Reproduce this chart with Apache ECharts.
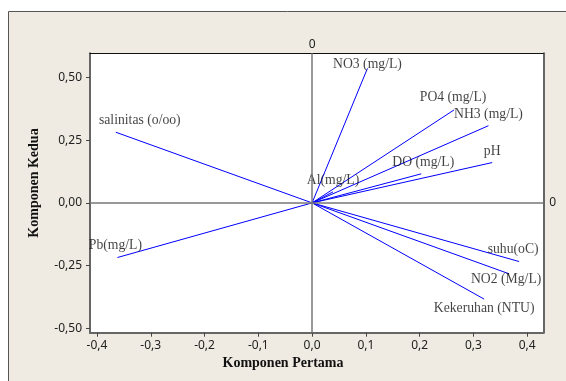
<!DOCTYPE html>
<html>
<head>
<meta charset="utf-8">
<script src="https://cdn.jsdelivr.net/npm/echarts@6/dist/echarts.min.js"></script>
<style>
html,body{margin:0;padding:0;background:#fff;}
#chart{width:566px;height:381px;}
</style>
</head>
<body>
<div id="chart"></div>
<script>
// Variable names (loadings plot)
var variables = ['NO3 (mg/L)', 'PO4 (mg/L)', 'NH3 (mg/L)', 'pH', 'DO (mg/L)', 'Al(mg/L)',
                 'salinitas (o/oo)', 'Pb(mg/L)', 'suhu(oC)', 'NO2 (Mg/L)', 'Kekeruhan (NTU)'];
// First component loadings
var komponenPertama = [0.103, 0.264, 0.328, 0.335, 0.203, 0.039, -0.365, -0.362, 0.385, 0.3665, 0.320];
// Second component loadings
var komponenKedua = [0.537, 0.371, 0.308, 0.161, 0.116, 0.044, 0.282, -0.218, -0.234, -0.283, -0.384];
// Tick labels
var xTicks = [-0.4, -0.3, -0.2, -0.1, 0.0, 0.1, 0.2, 0.3, 0.4];
var yTicks = [-0.5, -0.25, 0, 0.25, 0.5];

// label placement (style only)
var labelOffsets = [[0,-4],[-1,-13],[0,-11],[0,-11],[2,-11],[0,-11],[24,-12],[-2,-12],[-6,-12],[-3,6],[0,9]];

var XMIN = -0.413, XMAX = 0.430, YMIN = -0.518, YMAX = 0.597;
var serif = '"Liberation Serif", "Times New Roman", serif';
var sans = '"Noto Sans", "DejaVu Sans", sans-serif';

function commaFmt(d) { return function (v) { return v.toFixed(d).replace('.', ','); }; }

var series = variables.map(function (name, i) {
  return {
    type: 'line',
    xAxisIndex: 0, yAxisIndex: 0,
    data: [[0, 0], [komponenPertama[i], komponenKedua[i]]],
    symbol: 'none',
    lineStyle: { color: '#0000FF', width: 1 },
    silent: true,
    z: 3
  };
});

series.push({
  type: 'scatter',
  xAxisIndex: 0, yAxisIndex: 0,
  symbolSize: 0,
  z: 4,
  data: variables.map(function (name, i) {
    return {
      name: name,
      value: [komponenPertama[i], komponenKedua[i]],
      label: { offset: labelOffsets[i] }
    };
  }),
  label: {
    show: true,
    position: 'inside',
    formatter: '{b}',
    color: '#111',
    fontFamily: serif,
    fontSize: 13.7
  },
  markLine: {
    silent: true,
    symbol: 'none',
    label: { show: false },
    lineStyle: { color: '#777', width: 1.5, type: 'solid' },
    data: [{ xAxis: 0 }, { yAxis: 0 }]
  },
  z2: 5
});

var chart = echarts.init(document.getElementById('chart'));
chart.setOption({
  animation: false,
  backgroundColor: '#fff',
  graphic: [
    { type: 'rect', z: -10, shape: { x: 8.5, y: 11.5, width: 620, height: 420 },
      style: { fill: '#EFEBE2', stroke: '#555', lineWidth: 1 } },
    { type: 'text', left: 'center', z: 10, x: 0, top: 356,
      style: { text: 'Komponen Pertama', font: 'bold 14px ' + serif, fill: '#111' } },
    { type: 'text', z: 10, x: 34, y: 183, rotation: Math.PI / 2,
      style: { text: 'Komponen Kedua', font: 'bold 14px ' + serif, fill: '#111',
               align: 'center', verticalAlign: 'middle' } }
  ],
  grid: {
    left: 90, right: 22.7, top: 53.3, bottom: 48.3,
    show: true, backgroundColor: '#fff', borderWidth: 0
  },
  xAxis: [{
    type: 'value', min: XMIN, max: XMAX, position: 'bottom',
    axisLine: { show: true, onZero: false, lineStyle: { color: '#666', width: 2 } },
    axisTick: { show: true, customValues: xTicks, length: 4, lineStyle: { color: '#444' } },
    axisLabel: { customValues: xTicks, formatter: commaFmt(1), margin: 7,
                 color: '#222', fontFamily: sans, fontSize: 12 },
    splitLine: { show: false }
  }, {
    type: 'value', min: XMIN, max: XMAX, position: 'top',
    axisLine: { show: true, onZero: false, lineStyle: { color: '#111', width: 1 } },
    axisTick: { show: false },
    axisLabel: { customValues: [0], formatter: function () { return '0'; }, margin: 3,
                 color: '#222', fontFamily: sans, fontSize: 12 },
    splitLine: { show: false }
  }],
  yAxis: [{
    type: 'value', min: YMIN, max: YMAX, position: 'left',
    axisLine: { show: true, onZero: false, lineStyle: { color: '#666', width: 2 } },
    axisTick: { show: true, customValues: yTicks, length: 4, lineStyle: { color: '#444' } },
    axisLabel: { customValues: yTicks, formatter: commaFmt(2), margin: 8,
                 color: '#222', fontFamily: sans, fontSize: 12 },
    splitLine: { show: false }
  }, {
    type: 'value', min: YMIN, max: YMAX, position: 'right',
    axisLine: { show: true, onZero: false, lineStyle: { color: '#666', width: 2 } },
    axisTick: { show: false },
    axisLabel: { customValues: [0], formatter: function () { return '0'; }, margin: 6,
                 color: '#222', fontFamily: sans, fontSize: 12 },
    splitLine: { show: false }
  }],
  series: series
});
</script>
</body>
</html>
